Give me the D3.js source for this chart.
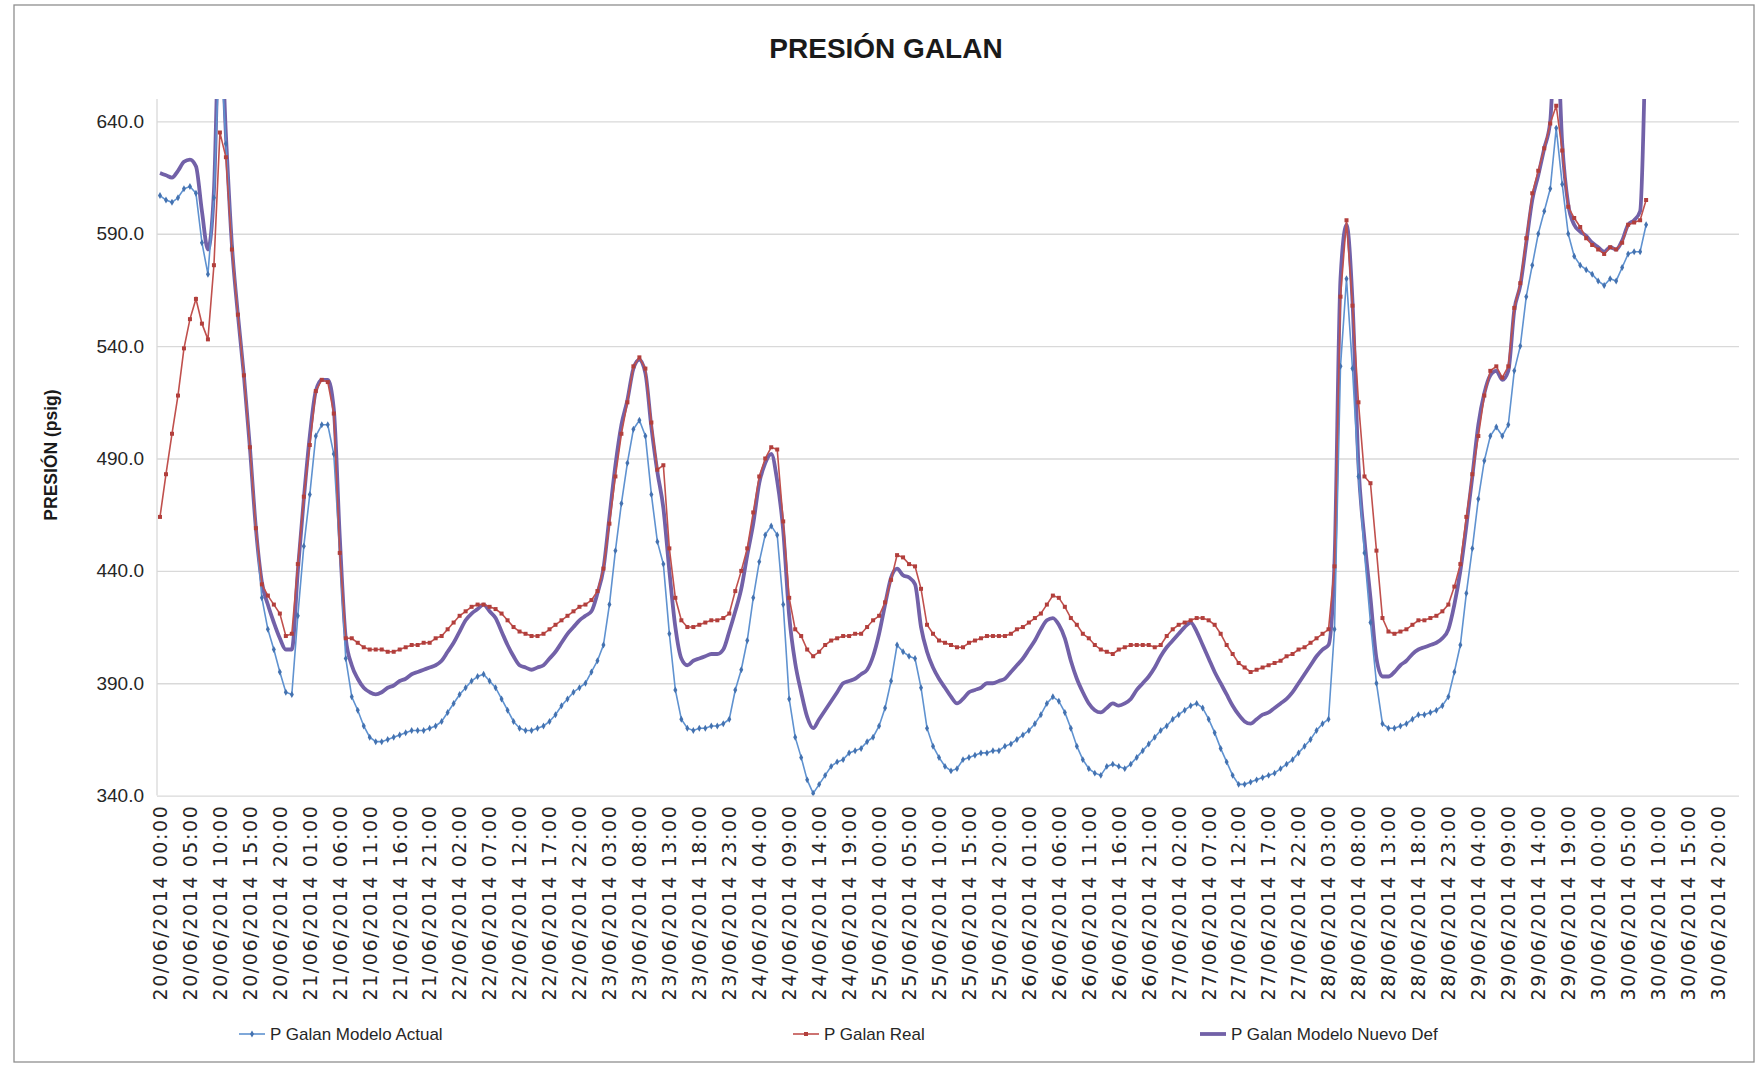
<!DOCTYPE html>
<meta charset="utf-8">
<script src="https://d3js.org/d3.v7.min.js"></script>
<style>
body { margin: 0; background: #fff; }
svg { font-family: "Liberation Sans", Arial, sans-serif; }
.grid line { stroke: #d9d9d9; stroke-width: 1.3; }
.grid path { stroke: none; }
.grid text { font-size: 19px; fill: #262626; }
.xaxis path, .xaxis line { stroke: none; }
.xaxis text { font-family: "DejaVu Sans", sans-serif; font-size: 19px; letter-spacing: 1.6px; fill: #262626; }
.legend text { font-size: 17px; fill: #262626; }
</style>
<svg width="1762" height="1065"></svg>
<script>

// hourly readings, 20/06/2014 00:00 onwards
var seriesNames = ["P Galan Modelo Actual", "P Galan Real", "P Galan Modelo Nuevo Def"];

var actualVals = [
  607, 605, 604, 606, 610, 611, 608, 586, 572, 606,
  680, 630, 584, 554, 527, 495, 459, 428, 414, 405,
  395, 386, 385, 420, 451, 474, 500, 505, 505, 492,
  448, 401, 384, 378, 371, 366, 364, 364, 365, 366,
  367, 368, 369, 369, 369, 370, 371, 373, 377, 381,
  385, 388, 391, 393, 394, 391, 388, 383, 378, 373,
  370, 369, 369, 370, 371, 373, 376, 380, 383, 386,
  388, 390, 395, 400, 407, 425, 449, 470, 488, 503,
  507, 500, 474, 453, 443, 412, 387, 374, 370, 369,
  370, 370, 371, 371, 372, 374, 387, 396, 409, 428,
  444, 456, 460, 456, 425, 383, 366, 357, 347, 341,
  345, 349, 353, 355, 356, 359, 360, 361, 364, 366,
  371, 379, 391, 407, 404, 402, 401, 388, 370, 362,
  357, 353, 351, 352, 356, 357, 358, 359, 359, 360,
  360, 362, 363, 365, 367, 369, 372, 376, 381, 384,
  382, 377, 370, 362, 356, 352, 350, 349, 353, 354,
  353, 352, 354, 357, 360, 363, 366, 369, 371, 374,
  376, 378, 380, 381, 379, 374, 368, 361, 355, 349,
  345, 345, 346, 347, 348, 349, 350, 352, 354, 356,
  359, 362, 365, 369, 372, 374, 414, 531, 570, 530,
  482, 448, 417, 390, 372, 370, 370, 371, 372, 374,
  376, 376, 377, 378, 380, 384, 395, 407, 430, 450,
  472, 489, 500, 504, 500, 505, 529, 540, 562, 576,
  590, 600, 610, 637, 612, 590, 580, 576, 574, 572,
  569, 567, 570, 569, 575, 581, 582, 582, 594
];

var realVals = [
  464, 483, 501, 518, 539, 552, 561, 550, 543, 576,
  635, 624, 583, 554, 527, 495, 459, 434, 429, 425,
  421, 411, 412, 443, 473, 496, 520, 525, 524, 510,
  448, 410, 410, 408, 406, 405, 405, 405, 404, 404,
  405, 406, 407, 407, 408, 408, 410, 411, 414, 417,
  420, 422, 424, 425, 425, 424, 423, 421, 418, 415,
  413, 412, 411, 411, 412, 414, 416, 418, 420, 422,
  424, 425, 427, 431, 441, 461, 482, 501, 515, 531,
  535, 530, 506, 485, 487, 450, 428, 418, 415, 415,
  416, 417, 418, 418, 419, 421, 431, 440, 450, 466,
  482, 490, 495, 494, 462, 428, 414, 411, 405, 402,
  404, 407, 409, 410, 411, 411, 412, 412, 415, 418,
  420, 426, 436, 447, 446, 443, 442, 432, 416, 412,
  409, 408, 407, 406, 406, 408, 409, 410, 411, 411,
  411, 411, 412, 414, 415, 417, 419, 421, 425, 429,
  428, 424, 419, 416, 412, 410, 407, 405, 404, 403,
  405, 406, 407, 407, 407, 407, 406, 407, 411, 414,
  416, 417, 418, 419, 419, 418, 416, 412, 407, 403,
  399, 397, 395, 396, 397, 398, 399, 400, 402, 403,
  405, 406, 408, 410, 412, 414, 442, 562, 596, 558,
  515, 482, 479, 449, 419, 413, 412, 413, 414, 416,
  418, 418, 419, 420, 422, 425, 433, 443, 464, 483,
  500, 518, 529, 531, 526, 531, 557, 568, 588, 608,
  618, 628, 639, 647, 627, 602, 597, 593, 588, 585,
  583, 581, 584, 583, 586, 594, 595, 596, 605
];

var nuevoVals = [
  617, 616, 615, 618, 622, 623, 620, 600, 583, 609,
  690, 634, 585, 554, 527, 495, 459, 435, 425, 417,
  410, 405, 405, 440, 472, 500, 520, 525, 525, 512,
  455, 410, 398, 392, 388, 386, 385, 386, 388, 389,
  391, 392, 394, 395, 396, 397, 398, 400, 404, 408,
  413, 418, 421, 423, 425, 422, 419, 413, 407, 402,
  398, 397, 396, 397, 398, 401, 404, 408, 412, 415,
  418, 420, 422, 430, 441, 464, 487, 505, 516, 530,
  534, 528, 504, 484, 468, 440, 415, 401, 398, 400,
  401, 402, 403, 403, 405, 413, 422, 432, 447, 461,
  479, 488, 492, 480, 458, 420, 399, 386, 375, 370,
  374, 378, 382, 386, 390, 391, 392, 394, 396, 402,
  412, 425, 437, 441, 438, 437, 434, 415, 404, 397,
  392, 388, 384, 381, 383, 386, 387, 388, 390, 390,
  391, 392, 395, 398, 401, 405, 409, 414, 418, 419,
  416, 410, 400, 392, 386, 381, 378, 377, 379, 381,
  380, 381, 383, 387, 390, 393, 397, 402, 406, 409,
  412, 415, 417, 413, 407, 401, 395, 390, 385, 380,
  376, 373, 372, 374, 376, 377, 379, 381, 383, 386,
  390, 394, 398, 402, 405, 407, 444, 570, 594, 560,
  487, 454, 428, 401, 393, 393, 395, 398, 400, 403,
  405, 406, 407, 408, 410, 414, 425, 440, 460, 482,
  505, 519, 527, 529, 525, 529, 556, 567, 586, 605,
  616, 628, 640, 685, 630, 603, 594, 591, 589, 586,
  584, 582, 584, 583, 587, 594, 596, 600, 690
];

var yTicks = [340, 390, 440, 490, 540, 590, 640];
var yDomain = [340, 650];
var startTime = new Date(2014, 5, 20, 0, 0);
var nCats = 264;      // hourly categories on the axis
var labelStep = 5;    // one label every 5 hours

var colors = ["#5f92d0", "#c0504d", "#7261a8"];
var markColors = ["#4472b0", "#b23f3c"];

var svg = d3.select("svg"),
    plot = {left: 157, right: 1739, top: 98.9, bottom: 795.6};

var hours = d3.timeHour.range(startTime, d3.timeHour.offset(startTime, nCats));
var fmt = d3.timeFormat("%d/%m/%Y %H:%M");

var x = d3.scaleBand()
    .domain(d3.range(nCats))
    .range([plot.left, plot.right]);
var cx = function(i) { return x(i) + x.bandwidth() / 2; };

var y = d3.scaleLinear()
    .domain(yDomain)
    .range([plot.bottom, plot.top]);

// chart border
svg.append("rect")
    .attr("x", 14).attr("y", 5)
    .attr("width", 1740).attr("height", 1057)
    .attr("fill", "none")
    .attr("stroke", "#8f8f8f")
    .attr("stroke-width", 1.3);

// title
svg.append("text")
    .attr("x", 886).attr("y", 58)
    .attr("text-anchor", "middle")
    .style("font-size", "28px")
    .style("font-weight", "bold")
    .style("fill", "#1a1a1a")
    .text("PRESIÓN GALAN");

// gridlines + y labels
svg.append("g")
    .attr("class", "grid")
    .attr("transform", "translate(" + plot.left + ",0)")
    .call(d3.axisLeft(y)
      .tickValues(yTicks)
      .tickSize(-(plot.right - plot.left))
      .tickPadding(13)
      .tickFormat(d3.format(".1f")));

// y axis line
svg.append("line")
    .attr("x1", plot.left).attr("x2", plot.left)
    .attr("y1", plot.top).attr("y2", plot.bottom)
    .attr("stroke", "#d9d9d9").attr("stroke-width", 1.3);

// y title
svg.append("text")
    .attr("transform", "translate(57,455) rotate(-90)")
    .attr("text-anchor", "middle")
    .style("font-size", "17.5px")
    .style("font-weight", "bold")
    .style("fill", "#1a1a1a")
    .text("PRESIÓN (psig)");

// x axis labels
var xAxis = svg.append("g")
    .attr("class", "xaxis")
    .attr("transform", "translate(0," + plot.bottom + ")")
    .call(d3.axisBottom(x)
      .tickValues(d3.range(0, nCats, labelStep))
      .tickSize(0)
      .tickFormat(function(i) { return fmt(hours[i]); }));

xAxis.selectAll("text")
    .attr("transform", "rotate(-90)")
    .attr("x", -9)
    .attr("y", 0)
    .attr("dy", "0.36em")
    .style("text-anchor", "end");

// clip to plot area
svg.append("clipPath").attr("id", "plotclip")
  .append("rect")
    .attr("x", plot.left).attr("y", plot.top)
    .attr("width", plot.right - plot.left)
    .attr("height", plot.bottom - plot.top);

var lines = svg.append("g").attr("clip-path", "url(#plotclip)");

var line = d3.line()
    .x(function(d, i) { return cx(i); })
    .y(function(d) { return y(d); });

var smooth = d3.line()
    .curve(d3.curveMonotoneX)
    .x(function(d, i) { return cx(i); })
    .y(function(d) { return y(d); });

// purple drawn first, red last
lines.append("path")
    .datum(nuevoVals)
    .attr("fill", "none")
    .attr("stroke", colors[2])
    .attr("stroke-width", 3.8)
    .attr("stroke-linejoin", "round")
    .attr("d", smooth);

lines.append("path")
    .datum(actualVals)
    .attr("fill", "none")
    .attr("stroke", colors[0])
    .attr("stroke-width", 1.6)
    .attr("d", line);

lines.selectAll(".mA")
    .data(actualVals)
  .enter().append("path")
    .attr("class", "mA")
    .attr("transform", function(d, i) { return "translate(" + cx(i) + "," + y(d) + ")"; })
    .attr("d", d3.symbol(d3.symbolDiamond, 14))
    .attr("fill", markColors[0]);

lines.append("path")
    .datum(realVals)
    .attr("fill", "none")
    .attr("stroke", colors[1])
    .attr("stroke-width", 1.6)
    .attr("d", line);

lines.selectAll(".mR")
    .data(realVals)
  .enter().append("path")
    .attr("class", "mR")
    .attr("transform", function(d, i) { return "translate(" + cx(i) + "," + y(d) + ")"; })
    .attr("d", d3.symbol(d3.symbolSquare, 16))
    .attr("fill", markColors[1]);

// legend
var legendX = [239, 793, 1200];
var legend = svg.append("g").attr("class", "legend");
seriesNames.forEach(function(name, k) {
  var g = legend.append("g").attr("transform", "translate(" + legendX[k] + ",1034)");
  g.append("line")
      .attr("x1", 0).attr("x2", 26)
      .attr("stroke", colors[k])
      .attr("stroke-width", k == 2 ? 3.8 : 1.6);
  if (k == 0) {
    g.append("path").attr("transform", "translate(13,0)")
        .attr("d", d3.symbol(d3.symbolDiamond, 14)).attr("fill", markColors[0]);
  }
  if (k == 1) {
    g.append("path").attr("transform", "translate(13,0)")
        .attr("d", d3.symbol(d3.symbolSquare, 16)).attr("fill", markColors[1]);
  }
  g.append("text")
      .attr("x", 31)
      .attr("dy", "0.35em")
      .text(name);
});

</script>
